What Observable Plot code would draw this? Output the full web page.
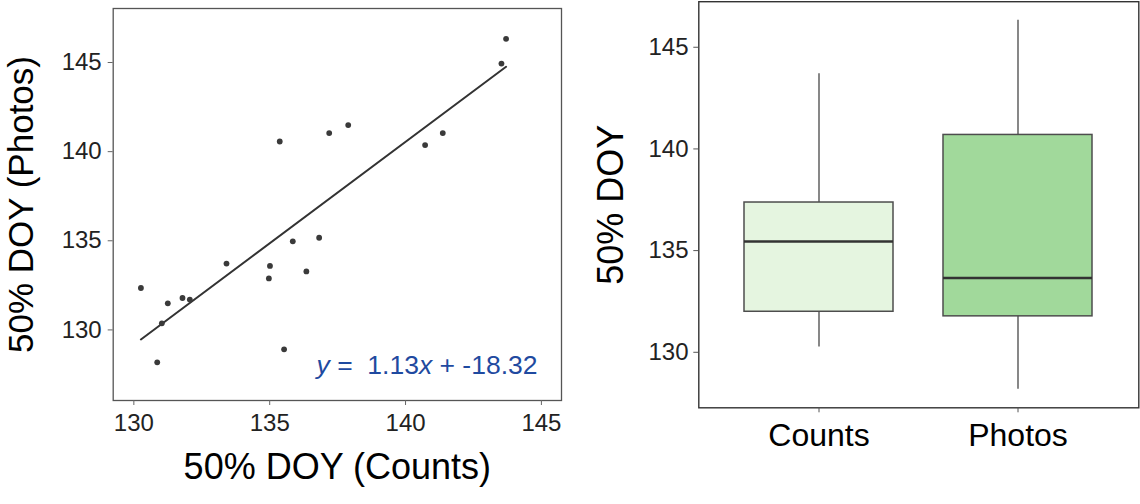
<!DOCTYPE html>
<html><head><meta charset="utf-8">
<script src="https://cdn.jsdelivr.net/npm/d3@7"></script>
<script src="https://cdn.jsdelivr.net/npm/@observablehq/plot@0.6"></script>
<style>
body{margin:0;background:#fff;}
#wrap{position:relative;width:1140px;height:504px;font-family:"Liberation Sans",Arial,sans-serif;overflow:hidden;}
#left{position:absolute;left:0;top:0;}
#right{position:absolute;left:570px;top:0;}
svg text{white-space:pre;}
</style></head><body><div id="wrap"><div id="left"></div><div id="right"></div></div>
<script>
// 50% DOY per site/year: counts-based (x) and photo-based (y)
const countsDOY = [130.26,130.86,131.03,131.25,131.79,132.06,133.41,134.97,135.01,135.37,135.53,135.85,136.35,136.82,137.19,137.89,140.72,141.37,143.53,143.70];
const photosDOY = [132.35,128.18,130.37,131.49,131.79,131.70,133.72,132.89,133.59,140.57,128.91,134.97,133.28,135.17,141.04,141.49,140.37,141.04,144.94,146.33];
const xTicks = [130,135,140,145];
const yTicks = [130,135,140,145];
const groups = ["Counts","Photos"];
const groupFills = ["#e5f5e0","#a1d99b"];
const eqText = "y =  1.13x + -18.32";
const xTitle = "50% DOY (Counts)";
const yTitle = "50% DOY (Photos)";
const boxTitle = "50% DOY";

const FONT = "Liberation Sans, Arial, sans-serif";
const pts = countsDOY.map((c, i) => ({counts: c, photos: photosDOY[i]}));

const left = Plot.plot({
  width: 570, height: 504,
  marginLeft: 112.7, marginRight: 9, marginTop: 8, marginBottom: 104,
  style: {fontFamily: FONT, background: "transparent", overflow: "visible"},
  x: {domain: [129.24, 145.74]},
  y: {domain: [126.04, 148.03]},
  marks: [
    Plot.frame({stroke: "#555", strokeWidth: 1.3}),
    Plot.axisX(xTicks, {tickSize: 5, tickPadding: 8, fontSize: 24, fill: "#222", stroke: "#666", label: null}),
    Plot.axisY(yTicks, {tickSize: 5, tickPadding: 6.5, fontSize: 24, fill: "#222", stroke: "#666", label: null}),
    Plot.linearRegressionY(pts, {x: "counts", y: "photos", ci: 0, stroke: "#333", strokeWidth: 2}),
    Plot.dot(pts, {x: "counts", y: "photos", r: 2.9, fill: "#3a3a3a", stroke: "none"}),
    Plot.text([eqText], {frameAnchor: "bottom-right", textAnchor: "end", lineAnchor: "bottom", dx: -24, dy: -27, fontSize: 26.5, fill: "#1f4aa0"}),
    Plot.text([xTitle], {frameAnchor: "bottom", textAnchor: "middle", dy: 78, fontSize: 36, fill: "#000"}),
    Plot.text([yTitle], {frameAnchor: "left", textAnchor: "middle", rotate: -90, dx: -91, fontSize: 35, fill: "#000"})
  ]
});
document.getElementById("left").appendChild(left);

// italicise y and x in the equation
d3.select(left).selectAll("text").filter(function() { return this.textContent === eqText; })
  .each(function() {
    const t = d3.select(this);
    t.text(null).attr("xml:space", "preserve");
    [["y", true], [" =  1.13", false], ["x", true], [" + -18.32", false]].forEach(([s, it]) => {
      t.append("tspan").attr("font-style", it ? "italic" : "normal").text(s);
    });
  });

const series = {Counts: countsDOY, Photos: photosDOY};
const boxRows = groups.flatMap(g => series[g].map(v => ({group: g, value: v})));
const q = p => vals => d3.quantile(vals, p);

const right = Plot.plot({
  width: 570, height: 504,
  marginLeft: 128.3, marginRight: 1.7, marginTop: 1.2, marginBottom: 96.7,
  style: {fontFamily: FONT, background: "transparent", overflow: "visible"},
  x: {domain: groups, paddingInner: 0.25, paddingOuter: 0.225},
  y: {domain: [127.27, 147.24]},
  color: {domain: groups, range: groupFills},
  marks: [
    Plot.ruleX(boxRows, Plot.groupX({y1: "min", y2: q(0.25)}, {x: "group", y1: "value", y2: "value", stroke: "#555", strokeWidth: 1.4})),
    Plot.ruleX(boxRows, Plot.groupX({y1: q(0.75), y2: "max"}, {x: "group", y1: "value", y2: "value", stroke: "#555", strokeWidth: 1.4})),
    Plot.barY(boxRows, Plot.groupX({y1: q(0.25), y2: q(0.75)}, {x: "group", y1: "value", y2: "value", fill: "group", stroke: "#4d4d4d", strokeWidth: 1.5})),
    Plot.tickY(boxRows, Plot.groupX({y: "median"}, {x: "group", y: "value", stroke: "#333", strokeWidth: 2.6})),
    Plot.frame({stroke: "#333", strokeWidth: 1.4}),
    Plot.axisY(yTicks, {tickSize: 5, tickPadding: 5.3, fontSize: 24, fill: "#222", stroke: "#555", label: null}),
    Plot.axisX({tickSize: 5, tickPadding: 10.5, fontSize: 32, fill: "#000", stroke: "#555", label: null}),
    Plot.text([boxTitle], {frameAnchor: "left", textAnchor: "middle", rotate: -90, dx: -87, fontSize: 36, fill: "#000"})
  ]
});
document.getElementById("right").appendChild(right);
</script>
</body></html>
